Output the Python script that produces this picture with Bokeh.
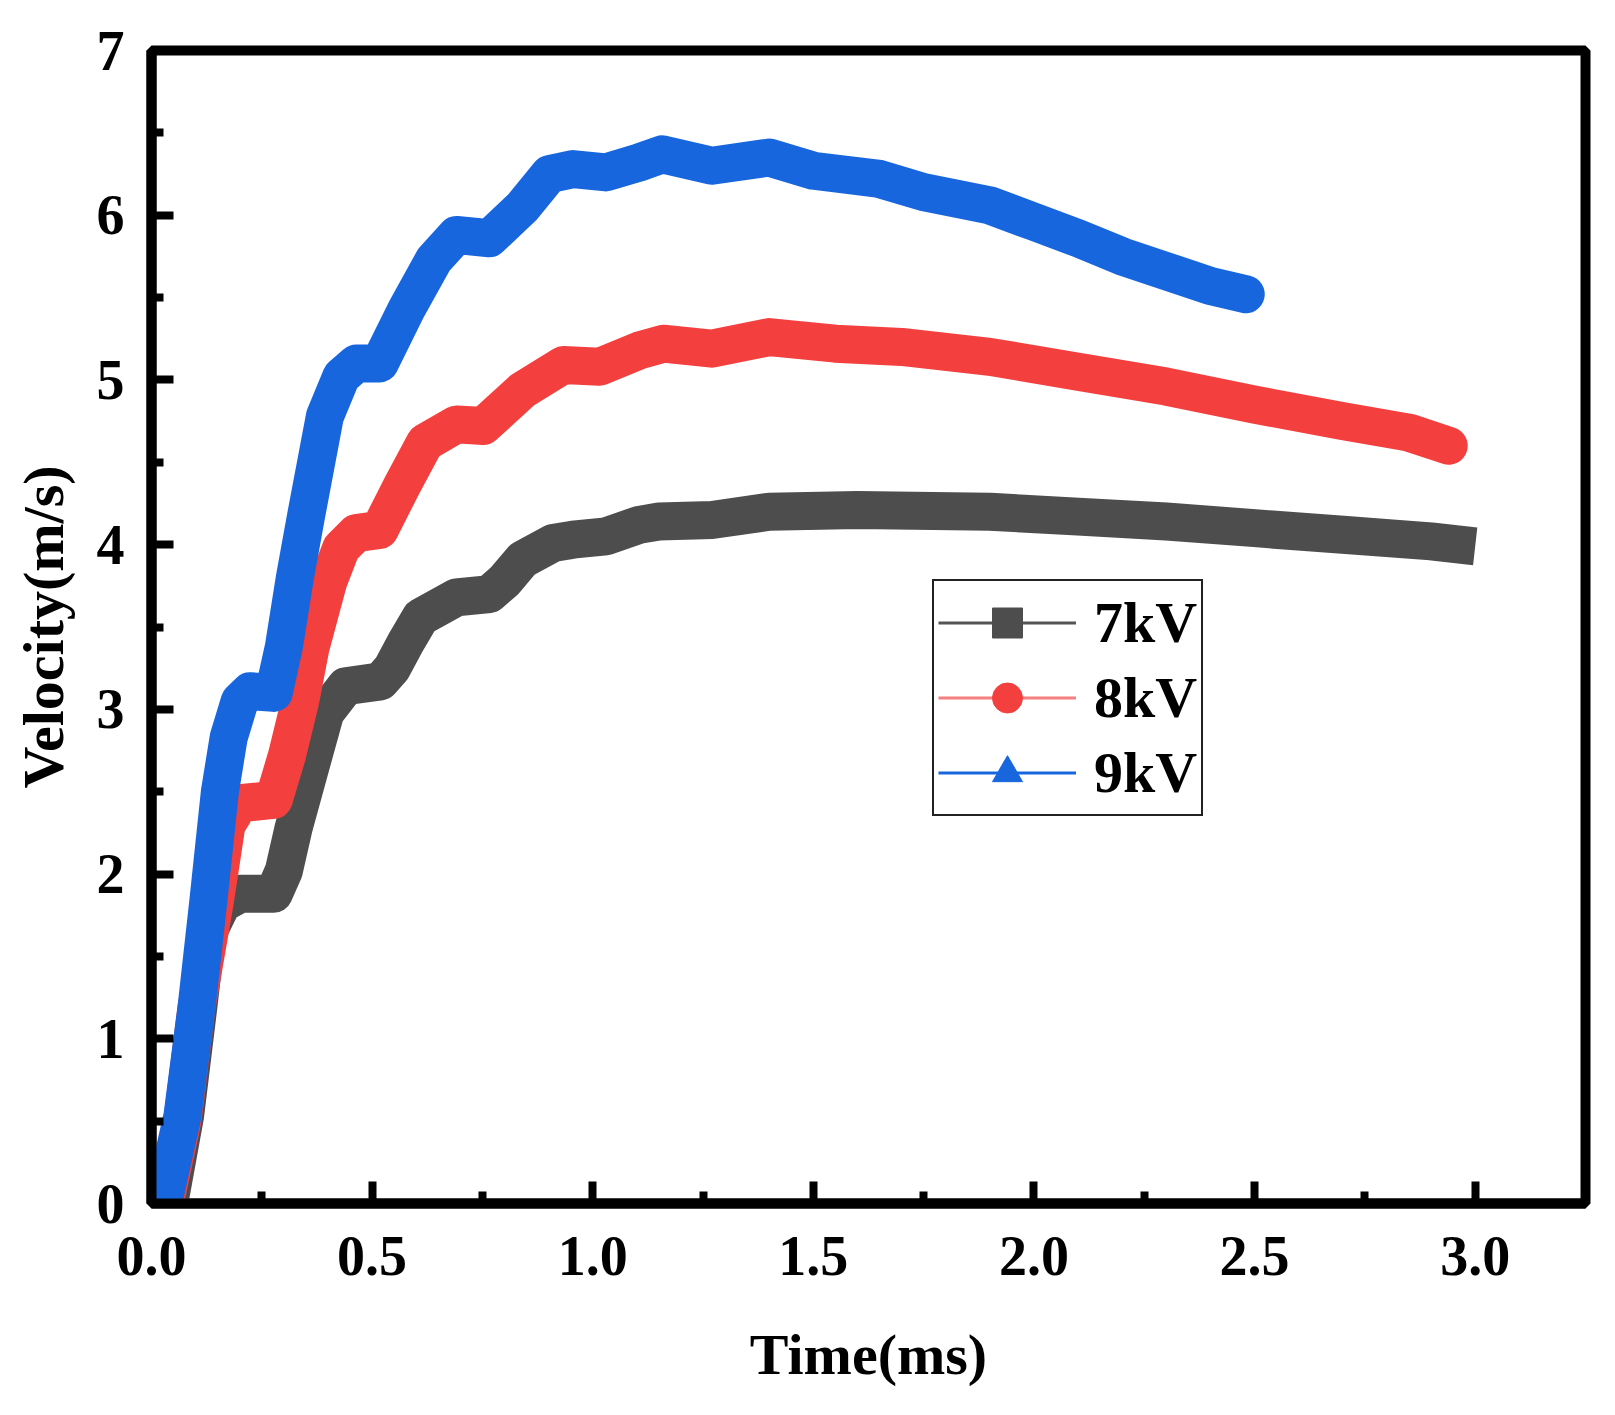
from bokeh.plotting import figure
from bokeh.models import Range1d, FixedTicker, Legend, LegendItem, ColumnDataSource
from bokeh.embed import file_html
from bokeh.resources import INLINE

# ---- data ----
t_7kv = [0.04, 0.076, 0.106, 0.125, 0.16, 0.2, 0.277, 0.30, 0.322, 0.36, 0.394, 0.44, 0.519,
         0.545, 0.575, 0.61, 0.691, 0.766, 0.80, 0.841, 0.91, 0.955, 1.03, 1.105, 1.15, 1.27, 1.4,
         1.6, 1.9, 2.1, 2.3, 2.5, 2.7, 2.9, 3.0]
v_7kv = [0.0, 0.53, 1.19, 1.63, 1.82, 1.88, 1.88, 2.02, 2.28, 2.65, 2.98, 3.14, 3.17,
         3.25, 3.40, 3.56, 3.68, 3.70, 3.78, 3.91, 4.01, 4.03, 4.05, 4.12, 4.14, 4.15, 4.20,
         4.21, 4.20, 4.17, 4.14, 4.10, 4.06, 4.02, 3.99]

t_8kv = [0.03, 0.07, 0.102, 0.144, 0.17, 0.2, 0.277, 0.307, 0.337, 0.36, 0.40, 0.43,
         0.464, 0.517, 0.57, 0.62, 0.691, 0.752, 0.842, 0.933, 1.016, 1.107, 1.16,
         1.27, 1.4, 1.55, 1.7, 1.9, 2.1, 2.3, 2.5, 2.7, 2.85, 2.94]
v_8kv = [0.0, 0.5, 1.19, 1.84, 2.3, 2.43, 2.45, 2.72, 3.05, 3.37, 3.77, 3.98,
         4.07, 4.09, 4.37, 4.62, 4.73, 4.72, 4.94, 5.09, 5.08, 5.18, 5.22,
         5.19, 5.26, 5.22, 5.20, 5.14, 5.05, 4.96, 4.85, 4.75, 4.68, 4.60]

t_9kv = [0.0, 0.03, 0.07, 0.102, 0.129, 0.155, 0.175, 0.2, 0.223, 0.277, 0.30, 0.325,
         0.35, 0.393, 0.43, 0.464, 0.517, 0.578, 0.64, 0.691, 0.766, 0.841, 0.902,
         0.955, 1.03, 1.105, 1.157, 1.27, 1.4, 1.5, 1.65, 1.75, 1.9, 2.0, 2.1, 2.2,
         2.3, 2.4, 2.48]
v_9kv = [0.0, 0.05, 0.53, 1.19, 1.84, 2.5, 2.83, 3.05, 3.11, 3.10, 3.38, 3.80,
         4.17, 4.78, 5.02, 5.10, 5.10, 5.43, 5.73, 5.88, 5.86, 6.05, 6.25,
         6.28, 6.26, 6.32, 6.37, 6.30, 6.35, 6.27, 6.22, 6.14, 6.06, 5.96, 5.86, 5.75,
         5.66, 5.57, 5.52]

labels = ["7kV", "8kV", "9kV"]
x_ticks = [0.0, 0.5, 1.0, 1.5, 2.0, 2.5, 3.0]
x_minor = [0.25, 0.75, 1.25, 1.75, 2.25, 2.75, 3.25]
y_ticks = [0, 1, 2, 3, 4, 5, 6, 7]
y_minor = [0.5, 1.5, 2.5, 3.5, 4.5, 5.5, 6.5]

C_GRAY = "#4d4d4d"
C_RED = "#f43f3f"
C_BLUE = "#1766de"
FONT = "Liberation Serif"

p = figure(width=1600, height=1400, x_range=Range1d(0, 3.25), y_range=Range1d(0, 7),
           output_backend="svg", toolbar_location=None,
           min_border_left=151, min_border_top=50, min_border_right=15, min_border_bottom=197)
p.background_fill_color = "white"
p.border_fill_color = "white"
p.xgrid.visible = False
p.ygrid.visible = False
p.outline_line_color = "black"
p.outline_line_width = 10
p.outline_line_alpha = 1.0

for ax in (p.xaxis[0], p.yaxis[0]):
    ax.axis_line_width = 10
    ax.axis_line_color = "black"
    ax.major_tick_in = 22
    ax.major_tick_out = 0
    ax.minor_tick_in = 12
    ax.minor_tick_out = 0
    ax.major_tick_line_width = 8
    ax.minor_tick_line_width = 8
    ax.major_label_text_font = FONT
    ax.major_label_text_font_style = "bold"
    ax.major_label_text_font_size = "56px"
    ax.major_label_text_color = "black"
    ax.axis_label_text_font = FONT
    ax.axis_label_text_font_style = "bold"
    ax.axis_label_text_font_size = "58px"
    ax.axis_label_text_color = "black"

p.xaxis.ticker = FixedTicker(ticks=x_ticks, minor_ticks=x_minor)
p.yaxis.ticker = FixedTicker(ticks=y_ticks, minor_ticks=y_minor)
p.xaxis.major_label_overrides = {v: f"{v:.1f}" for v in x_ticks}
p.xaxis.axis_label = "Time(ms)"
p.yaxis.axis_label = "Velocity(m/s)"
p.xaxis.major_label_standoff = 33
p.xaxis.axis_label_standoff = 44
p.yaxis.major_label_standoff = 27
p.yaxis.axis_label_standoff = 18

# curves (thick bands like dense markers)
LW = 38
p.line(t_7kv, v_7kv, line_color=C_GRAY, line_width=LW, line_join="round", line_cap="butt")
p.line(t_8kv, v_8kv, line_color=C_RED, line_width=LW, line_join="round", line_cap="round")
p.line(t_9kv, v_9kv, line_color=C_BLUE, line_width=LW, line_join="round", line_cap="round")

# legend proxies (line + marker)
items = []
specs = [("#555555", C_GRAY, "square"), ("#f77f7f", C_RED, "circle"), (C_BLUE, C_BLUE, "triangle")]
for lab, (lc, mc, mk) in zip(labels, specs):
    src = ColumnDataSource(data=dict(x=[float("nan")], y=[float("nan")]))
    lr = p.line("x", "y", source=src, line_color=lc, line_width=3)
    mr = p.scatter("x", "y", source=src, marker=mk, size=30, fill_color=mc, line_color=mc)
    items.append(LegendItem(label=lab, renderers=[lr, mr]))

legend = Legend(items=items, location=(781, 387))
legend.label_text_font = FONT
legend.label_text_font_style = "bold"
legend.label_text_font_size = "58px"
legend.label_text_color = "black"
legend.glyph_width = 138
legend.glyph_height = 75
legend.label_height = 60
legend.label_standoff = 18
legend.spacing = 0
legend.padding = 4
legend.margin = 0
legend.border_line_color = "#222222"
legend.border_line_width = 2
legend.border_line_alpha = 1.0
legend.background_fill_color = "white"
legend.background_fill_alpha = 1.0
p.add_layout(legend, "center")

open("out.html", "w").write(file_html(p, INLINE))
